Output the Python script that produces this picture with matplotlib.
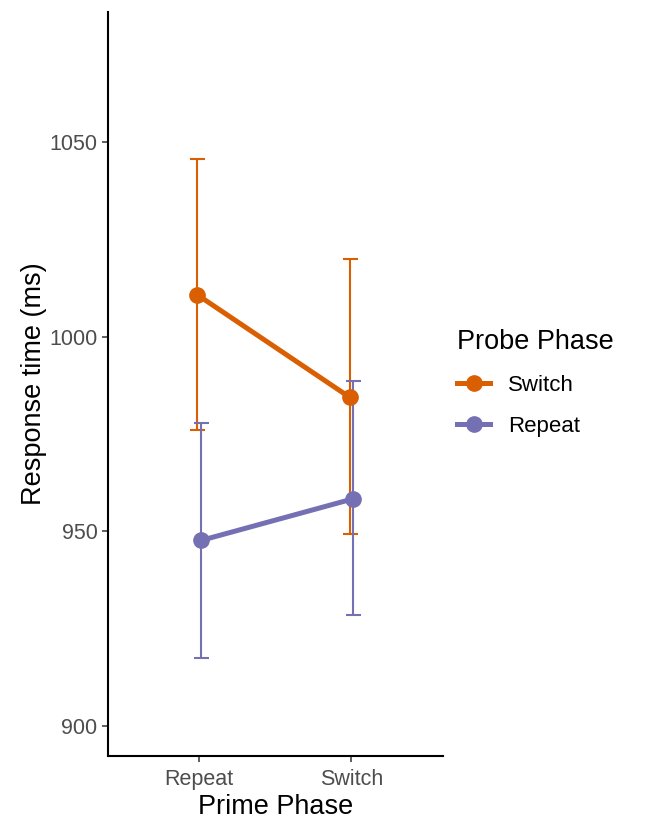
import matplotlib
matplotlib.use("Agg")
import matplotlib.pyplot as plt
from matplotlib.lines import Line2D
import numpy as np

plt.rcParams['font.family'] = ['Liberation Sans', 'DejaVu Sans']

prime_phase = ["Repeat", "Switch"]
probe_phase = ["Switch", "Repeat"]
means = {"Switch": [1010.8, 984.5], "Repeat": [947.7, 958.4]}
lower = {"Switch": [976.1, 949.4], "Repeat": [917.4, 928.5]}
upper = {"Switch": [1045.8, 1020.0], "Repeat": [978.0, 988.7]}
colors = {"Switch": "#D95F02", "Repeat": "#7570B3"}
dodge = {"Switch": -0.012, "Repeat": 0.012}

W, H = 662, 821
fig = plt.figure(figsize=(W/100, H/100), dpi=100)
ax = fig.add_axes([108/W, 1 - 756/H, (442.7-108)/W, (756-12)/H])

x = np.arange(1, len(prime_phase) + 1)
for p in probe_phase:
    xs = x + dodge[p]
    m = np.array(means[p])
    lo = m - np.array(lower[p])
    hi = np.array(upper[p]) - m
    ax.errorbar(xs, m, yerr=[lo, hi], fmt='none', ecolor=colors[p],
                elinewidth=1.5, capsize=5.4, capthick=1.5, zorder=2)
    ax.plot(xs, m, color=colors[p], lw=3.6, marker='o', ms=11,
            solid_capstyle='butt', zorder=3)

ax.set_xlim(0.4, 2.6)
ax.set_ylim(892.3, 1083.5)
ax.set_xticks(x)
ax.set_xticklabels(prime_phase)
ax.set_yticks([900, 950, 1000, 1050])
ax.tick_params(axis='both', labelsize=15.5, labelcolor='#4D4D4D', color='#333333',
               length=4, width=1.1)
ax.tick_params(axis='x', pad=5)
for s in ['top', 'right']:
    ax.spines[s].set_visible(False)
for s in ['left', 'bottom']:
    ax.spines[s].set_linewidth(1.5)
    ax.spines[s].set_color('black')
ax.set_xlabel("Prime Phase", fontsize=19.5, labelpad=3)
ax.set_ylabel("Response time (ms)", fontsize=19.5, labelpad=2)

handles = [Line2D([0], [0], color=colors[p], lw=3.6, marker='o', ms=11) for p in probe_phase]
leg = fig.legend(handles, probe_phase, title="Probe Phase", loc='upper left',
                 bbox_to_anchor=(451/W, 1 - 323/H), frameon=False,
                 fontsize=16, title_fontsize=19.5, handlelength=1.5,
                 labelspacing=0.89, handletextpad=0.8, borderaxespad=0,
                 borderpad=0.27)
leg._legend_box.align = "left"

fig.savefig("out.png", dpi=100)
